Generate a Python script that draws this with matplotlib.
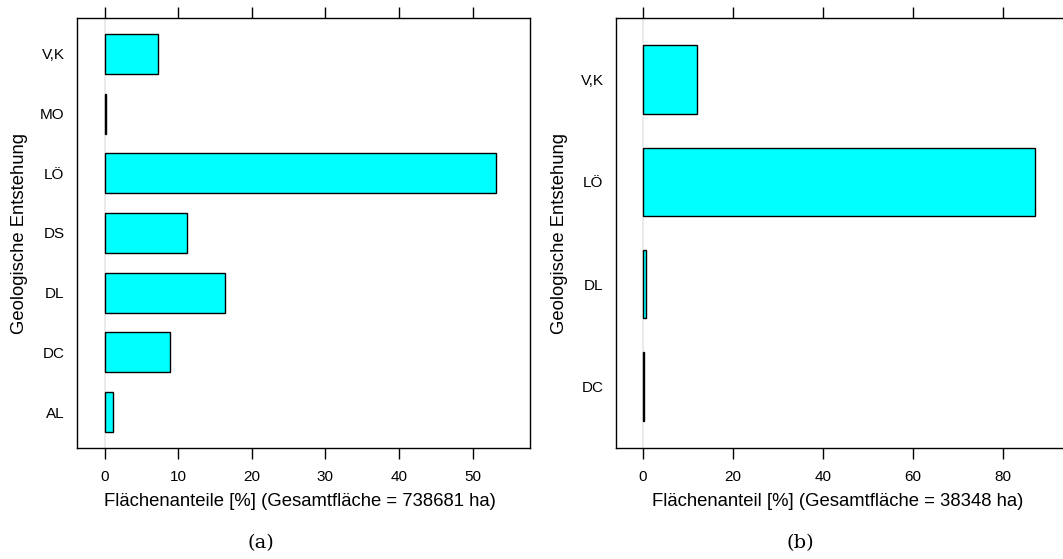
import matplotlib
matplotlib.use("Agg")
import matplotlib.pyplot as plt
import numpy as np

plt.rcParams['font.family'] = ['Liberation Sans', 'DejaVu Sans']

# Panel (a)
cats_a = ["AL", "DC", "DL", "DS", "LÖ", "MO", "V,K"]
vals_a = [1.18, 8.96, 16.4, 11.27, 53.2, 0.2, 7.27]
ticks_a = [0, 10, 20, 30, 40, 50]
xlim_a = (-3.74, 57.8)
xlabel_a = "Flächenanteile [%] (Gesamtfläche = 738681 ha)"

# Panel (b)
cats_b = ["DC", "DL", "LÖ", "V,K"]
vals_b = [0.25, 0.8, 87.06, 12.1]
ticks_b = [0, 20, 40, 60, 80]
xlim_b = (-5.95, 93.6)
xlabel_b = "Flächenanteil [%] (Gesamtfläche = 38348 ha)"

ylabel = "Geologische Entstehung"
captions = ["(a)", "(b)"]

W, H = 1063, 559
fig = plt.figure(figsize=(W / 100, H / 100), dpi=100)


def px_axes(l, r, t, b):
    return fig.add_axes([l / W, 1 - b / H, (r - l) / W, (b - t) / H])


def panel(ax, cats, vals, ticks, xlim):
    y = np.arange(1, len(cats) + 1)
    ax.axvline(0, color="#e6e6e6", lw=1.2, zorder=0)
    ax.barh(y, vals, height=0.67, color="#00ffff", edgecolor="black",
            linewidth=1.0, zorder=2)
    ax.set_xlim(*xlim)
    ax.set_ylim(0.4, len(cats) + 0.6)
    ax.set_yticks(y)
    ax.set_yticklabels(cats)
    ax.set_xticks(ticks)
    ax.tick_params(axis="y", length=0, pad=9, labelsize=11)
    ax.tick_params(axis="x", direction="out", length=8, width=1,
                   top=True, labeltop=False, labelsize=11, pad=8)
    for s in ax.spines.values():
        s.set_linewidth(1.0)
        s.set_color("black")


ax1 = px_axes(77, 530, 18, 448)
panel(ax1, cats_a, vals_a, ticks_a, xlim_a)
ax2 = px_axes(616, 1064, 18, 448)
panel(ax2, cats_b, vals_b, ticks_b, xlim_b)

fs = 13.3
fig.text(20 / W, 1 - 233 / H, ylabel, rotation=90, ha="center", va="center", fontsize=fs)
fig.text(560 / W, 1 - 233 / H, ylabel, rotation=90, ha="center", va="center", fontsize=fs)
fig.text(300 / W, 1 - 502 / H, xlabel_a, ha="center", va="center", fontsize=fs)
fig.text(838 / W, 1 - 502 / H, xlabel_b, ha="center", va="center", fontsize=fs)
fig.text(261 / W, 1 - 543 / H, captions[0], ha="center", va="center", fontsize=14,
         family=["DejaVu Serif"])
fig.text(800 / W, 1 - 543 / H, captions[1], ha="center", va="center", fontsize=14,
         family=["DejaVu Serif"])

fig.savefig("out.png", dpi=100)
